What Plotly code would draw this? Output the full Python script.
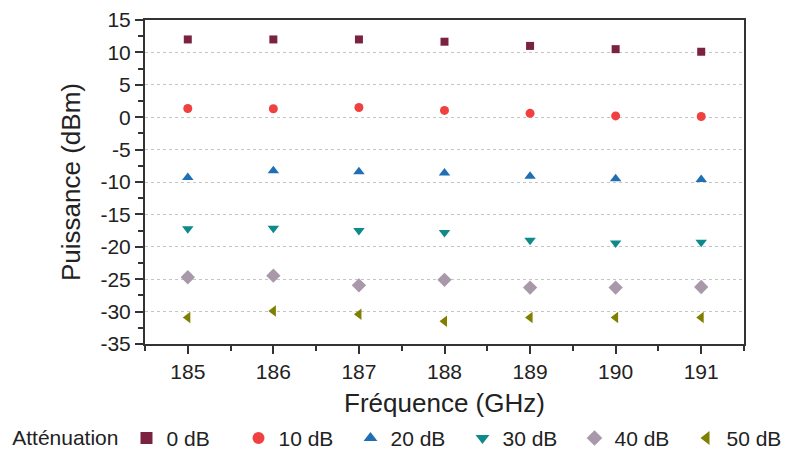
import plotly.graph_objects as go

freq = [185, 186, 187, 188, 189, 190, 191]
p0 = [12.0, 12.0, 12.0, 11.65, 11.0, 10.5, 10.1]
p10 = [1.35, 1.3, 1.5, 1.05, 0.6, 0.2, 0.1]
p20 = [-9.3, -8.25, -8.4, -8.6, -9.1, -9.5, -9.6]
p30 = [-17.2, -17.15, -17.5, -17.8, -19.0, -19.4, -19.3]
p40 = [-24.7, -24.45, -25.95, -25.1, -26.3, -26.3, -26.2]
p50 = [-30.9, -29.9, -30.4, -31.5, -30.9, -30.9, -30.9]

y_tickvals = [15, 10, 5, 0, -5, -10, -15, -20, -25, -30, -35]
y_ticktext = ["15", "10", "5", "0", "-5", "-10", "-15", "-20", "-25", "-30", "-35"]

names = ["0 dB", "10 dB", "20 dB", "30 dB", "40 dB", "50 dB"]
colors = ["#7B2240", "#F0403F", "#1F6FB4", "#0E8A8A", "#A898AA", "#7F7F00"]
symbols = ["square", "circle", "triangle-up", "triangle-down", "diamond", "triangle-left"]
sizes = [8, 9, 10, 10, 11, 10]
series = [p0, p10, p20, p30, p40, p50]

fig = go.Figure()
for n, c, s, sz, y in zip(names, colors, symbols, sizes, series):
    fig.add_trace(go.Scatter(x=freq, y=y, mode="markers", name=n,
                             marker=dict(color=c, symbol=s, size=sz, line=dict(width=0))))

font = "Liberation Sans, Arial, sans-serif"
fig.update_layout(
    width=790, height=446,
    margin=dict(l=137, r=54, t=12, b=110, autoexpand=False),
    plot_bgcolor="white", paper_bgcolor="white",
    font=dict(family=font, size=21, color="#222"),
    legend=dict(orientation="h", x=-0.225, xanchor="left", y=-0.228, yanchor="top",
                title=dict(text="Atténuation", font=dict(size=21)),
                font=dict(size=21), entrywidth=67, itemsizing="constant",
                bgcolor="rgba(0,0,0,0)"),
    xaxis=dict(range=[184.5, 191.5], tickvals=freq, ticks="outside", ticklen=8, tickwidth=1.5,
               tickcolor="#333",
               showline=True, linecolor="#333", linewidth=2, mirror=True, showgrid=False,
               zeroline=False, tickfont=dict(size=21),
               title=dict(text="Fréquence (GHz)", font=dict(size=26), standoff=12),
               minor=dict(dtick=0.5, tick0=184.5, ticks="outside", ticklen=5, tickcolor="#333")),
    yaxis=dict(range=[-35, 15], tickvals=y_tickvals, ticktext=y_ticktext,
               ticks="outside", ticklen=8, tickwidth=1.5,
               tickcolor="#333",
               showline=True, linecolor="#333", linewidth=2, mirror=True,
               showgrid=True, gridcolor="#C4C4C4", griddash="dot", gridwidth=1,
               zeroline=False, tickfont=dict(size=21),
               title=dict(text="Puissance (dBm)", font=dict(size=26), standoff=12),
               minor=dict(dtick=2.5, tick0=0, ticks="outside", ticklen=5, tickcolor="#333", showgrid=False)),
)
fig.write_html("out.html")
